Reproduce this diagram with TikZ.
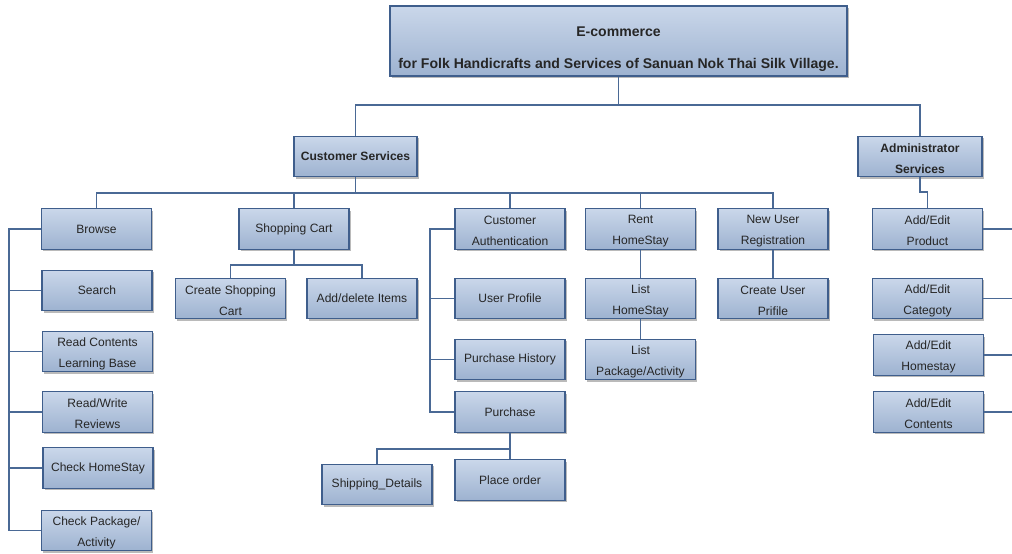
\documentclass[tikz,border=0pt]{standalone}
\usepackage{fontspec}
\setmainfont{Liberation Sans}
\usetikzlibrary{shadows}

\definecolor{boxtop}{HTML}{CAD7EA}
\definecolor{boxbot}{HTML}{9DB2D0}
\definecolor{boxline}{HTML}{3F5E8C}
\definecolor{linkcol}{HTML}{4A6995}
\definecolor{txt}{HTML}{262626}

\newcommand{\liftline}{\rule{0pt}{11pt}}

\begin{document}
\begin{tikzpicture}[x=0.03cm,y=-0.03cm,
    box/.style={rectangle,draw=boxline,line width=1.1pt,top color=boxtop,bottom color=boxbot,
      minimum width=3.3cm,minimum height=1.22cm,inner sep=0pt,align=center,text=txt,
      font=\fontsize{10.3}{18}\selectfont,
      drop shadow={shadow xshift=1.6pt,shadow yshift=-1.6pt,fill=black!45,opacity=0.6}},
    head/.style={box,font=\fontsize{10.3}{18}\selectfont\bfseries},
    link/.style={draw=linkcol,line width=1.2pt}]
      \useasboundingbox (0,0) rectangle (1012,553);

      \node [head,minimum width=13.71cm,minimum height=2.1cm,font=\fontsize{12}{27}\selectfont\bfseries] (root) at (618.5,41)
        {\rule{0pt}{22pt}E-commerce\\for Folk Handicrafts and Services of Sanuan Nok Thai Silk Village.};

      \node [head,minimum width=3.69cm] (cust) at (355.5,156.5) {Customer Services};
      \node [head,minimum width=3.72cm] (admin) at (920,156.5) {\liftline Administrator\\Services};

      \node [box] (browse) at (96.5,229) {Browse};
      \node [box] (search) at (97,290.5) {Search};
      \node [box] (readc) at (97.5,351.5) {\liftline Read Contents\\Learning Base};
      \node [box] (review) at (97.5,412) {\liftline Read/Write\\Reviews};
      \node [box] (chome) at (98,468) {Check HomeStay};
      \node [box] (cpack) at (96.5,530.5) {\liftline Check Package/\\Activity};

      \node [box] (cart) at (294,229) {Shopping Cart};
      \node [box] (ccart) at (230.5,298.5) {\liftline Create Shopping\\Cart};
      \node [box] (additem) at (362,298.5) {Add/delete Items};

      \node [box] (auth) at (510,229) {\liftline Customer\\Authentication};
      \node [box] (profile) at (510,298.5) {User Profile};
      \node [box] (history) at (510,359.5) {Purchase History};
      \node [box] (purchase) at (510,412) {Purchase};
      \node [box] (ship) at (377,484.5) {Shipping\_Details};
      \node [box] (order) at (510,480) {Place order};

      \node [box] (rent) at (640.5,229) {\liftline Rent\\HomeStay};
      \node [box] (lhome) at (640.5,298.5) {\liftline List\\HomeStay};
      \node [box] (lpack) at (640.5,359.5) {\liftline List\\Package/Activity};

      \node [box] (newuser) at (773,229) {\liftline New User\\Registration};
      \node [box] (cuser) at (773,298.5) {\liftline Create User\\Prifile};

      \node [box] (aprod) at (927.5,229) {\liftline Add/Edit\\Product};
      \node [box] (acat) at (927.5,298.5) {\liftline Add/Edit\\Categoty};
      \node [box] (ahome) at (928.5,355) {\liftline Add/Edit\\Homestay};
      \node [box] (acont) at (928.5,412) {\liftline Add/Edit\\Contents};

      \coordinate (bus0) at (0,105);
      \coordinate (bus1) at (0,193);
      \coordinate (cbus) at (0,265);
      \coordinate (pbus) at (0,449);
      \coordinate (kink) at (0,192);
      \coordinate (lbus) at (9,0);
      \coordinate (abus) at (430,0);
      \coordinate (rbus) at (1012,0);

      \draw [link] (cust.north) -- (cust.north |- bus0) -| (root.south);
      \draw [link] (admin.north) -- (admin.north |- bus0) -| (root.south);

      \foreach \n in {browse,cart,auth,rent,newuser}
        \draw [link] (\n.north) -- (\n.north |- bus1) -| (cust.south);

      \foreach \n in {search,readc,review,chome,cpack}
        \draw [link] (browse.west) -- (browse.west -| lbus) |- (\n.west);

      \foreach \n in {ccart,additem}
        \draw [link] (\n.north) -- (\n.north |- cbus) -| (cart.south);

      \foreach \n in {profile,history,purchase}
        \draw [link] (auth.west) -- (auth.west -| abus) |- (\n.west);

      \draw [link] (ship.north) -- (ship.north |- pbus) -| (purchase.south);
      \draw [link] (purchase.south) -- (order.north);

      \draw [link] (rent.south) -- (lhome.north);
      \draw [link] (lhome.south) -- (lpack.north);
      \draw [link] (newuser.south) -- (cuser.north);

      \draw [link] (admin.south) -- (admin.south |- kink) -| (aprod.north);
      \foreach \n in {aprod,acat,ahome,acont}
        \draw [link] (\n.east) -- (\n.east -| rbus);

    \end{tikzpicture}
\end{document}
